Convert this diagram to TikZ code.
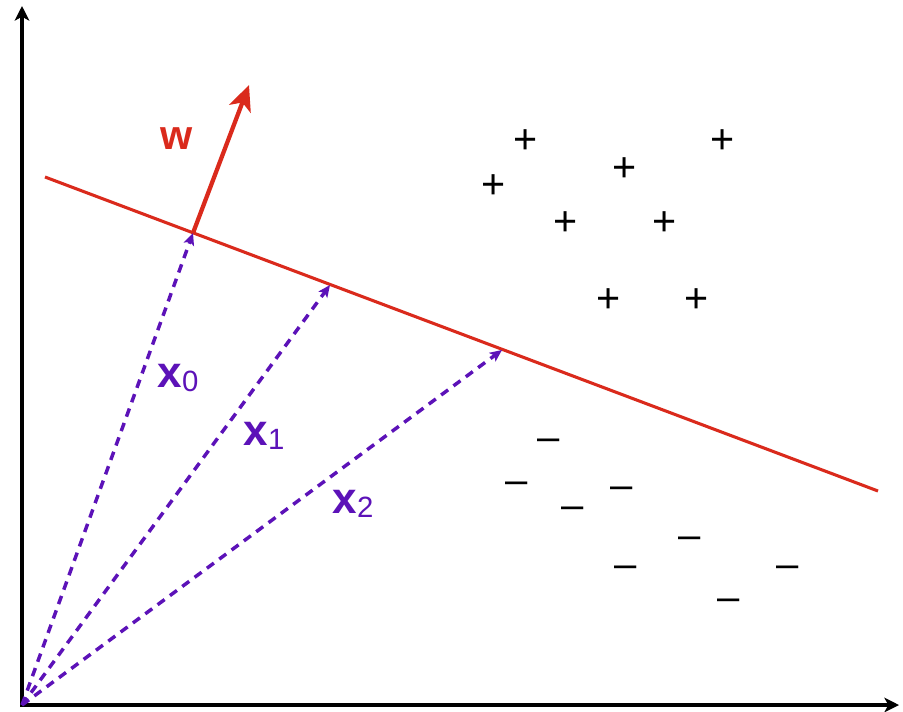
\documentclass[tikz,border=0pt]{standalone}
\usepackage{fontspec}
\setmainfont{Liberation Sans}
\usetikzlibrary{arrows.meta}
\definecolor{svmred}{HTML}{DA2A1C}
\definecolor{svmpurple}{HTML}{5C12B8}
\begin{document}
\begin{tikzpicture}[x=0.75pt,y=-0.75pt,
  axis/.style={line width=3pt,-{Stealth[length=11pt,width=11pt,inset=3pt]}},
  hyper/.style={svmred,line width=2.3pt},
  wvec/.style={svmred,line width=3.2pt,-{Stealth[length=19pt,width=17pt,inset=5pt]}},
  xvec/.style={svmpurple,line width=2.6pt,dash pattern=on 6.5pt off 5pt,-{Stealth[length=9pt,width=8pt,inset=2pt]}},
  xlab/.style={text=svmpurple,inner sep=0pt},
  possign/.style={inner sep=0pt,font=\fontsize{31pt}{31pt}\selectfont},
  negsign/.style={inner sep=0pt,font=\fontsize{30pt}{30pt}\selectfont}]
\path[use as bounding box] (0,0) rectangle (903,711);
% axes
\coordinate (O) at (22,705);
\coordinate (Ytop) at (22,6);
\coordinate (Xend) at (899,705);
\draw[axis] ([yshift=-1.5pt]O) -- (Ytop);
\draw[axis] ([xshift=-1.5pt]O) -- (Xend);
% hyperplane
\coordinate (L1) at (45,177);
\coordinate (L2) at (878,491);
\draw[hyper] (L1) -- (L2);
% points on hyperplane
\coordinate (P0) at (193,233);
\coordinate (P1) at (330,285);
\coordinate (P2) at (502,350);
\coordinate (W) at (249,85);
\draw[wvec] (P0) -- (W);
\node[text=svmred,inner sep=0pt,font=\fontsize{31pt}{31pt}\selectfont\bfseries] (wl) at (177,139) {w};
% vectors
\draw[xvec] (O) -- (P0);
\draw[xvec] (O) -- (P1);
\draw[xvec] (O) -- (P2);
\node[xlab] (x0) at (178,378) {\fontsize{33pt}{33pt}\selectfont\bfseries x\raisebox{-3pt}{\fontsize{22pt}{22pt}\selectfont\mdseries 0}};
\node[xlab] (x1) at (264,436) {\fontsize{33pt}{33pt}\selectfont\bfseries x\raisebox{-3pt}{\fontsize{22pt}{22pt}\selectfont\mdseries 1}};
\node[xlab] (x2) at (353,504) {\fontsize{33pt}{33pt}\selectfont\bfseries x\raisebox{-3pt}{\fontsize{22pt}{22pt}\selectfont\mdseries 2}};
% positives
\foreach \px/\py [count=\i] in {526/142,723/142,625/170,494/187,566/224,665/224,609/301,697/301}
  \node[possign] (plus\i) at (\px,\py) {+};
% negatives
\foreach \px/\py [count=\i] in {549/445,517/488,622/493,573/513,690/543,626/572,788/572,729/605}
  \node[negsign] (minus\i) at (\px,\py) {–};
\end{tikzpicture}
\end{document}
